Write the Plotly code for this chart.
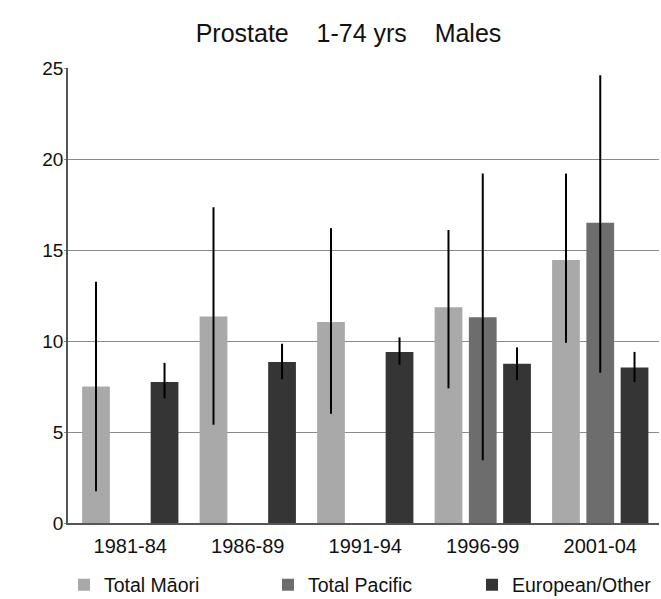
import plotly.graph_objects as go

periods = ["1981-84", "1986-89", "1991-94", "1996-99", "2001-04"]

maori = [7.5, 11.35, 11.05, 11.85, 14.45]
maori_lo = [1.75, 5.4, 6.0, 7.4, 9.9]
maori_hi = [13.25, 17.35, 16.2, 16.1, 19.2]

pacific = [None, None, None, 11.3, 16.5]
pacific_lo = [None, None, None, 3.45, 8.25]
pacific_hi = [None, None, None, 19.2, 24.6]

european = [7.75, 8.85, 9.4, 8.75, 8.55]
european_lo = [6.85, 7.9, 8.7, 7.85, 7.75]
european_hi = [8.8, 9.85, 10.2, 9.65, 9.4]

y_ticks = [0, 5, 10, 15, 20, 25]


def err(vals, lo, hi):
    plus = [(h - v) if v is not None else None for v, h in zip(vals, hi)]
    minus = [(v - l) if v is not None else None for v, l in zip(vals, lo)]
    return dict(type="data", symmetric=False, array=plus, arrayminus=minus,
                color="black", thickness=2, width=0)


fig = go.Figure()
fig.add_trace(go.Bar(name="Total Māori", x=periods, y=maori,
                     marker=dict(color="#a9a9a9", line=dict(width=0)),
                     error_y=err(maori, maori_lo, maori_hi), legend="legend"))
fig.add_trace(go.Bar(name="Total Pacific", x=periods, y=pacific,
                     marker=dict(color="#6d6d6d", line=dict(width=0)),
                     error_y=err(pacific, pacific_lo, pacific_hi), legend="legend2"))
fig.add_trace(go.Bar(name="European/Other", x=periods, y=european,
                     marker=dict(color="#353535", line=dict(width=0)),
                     error_y=err(european, european_lo, european_hi), legend="legend3"))


def leg(xpx):
    return dict(orientation="h", x=xpx / 661, xanchor="left", xref="container",
                y=1 - 585 / 599, yanchor="middle", yref="container",
                font=dict(size=19.5), itemwidth=30, bgcolor="rgba(0,0,0,0)")


fig.update_layout(
    width=661, height=599,
    margin=dict(l=68, r=2, t=68, b=76),
    paper_bgcolor="white", plot_bgcolor="white",
    font=dict(family="Liberation Sans, Arial, sans-serif", size=19, color="#111111"),
    title=dict(text="Prostate\u00a0\u00a0\u00a0 1-74 yrs\u00a0\u00a0\u00a0 Males",
               x=348.5 / 661, xanchor="center", xref="container",
               y=1 - 33 / 599, yanchor="middle", yref="container",
               font=dict(size=25, color="#111111")),
    barmode="group", bargap=0.125, bargroupgap=0.19,
    showlegend=True,
    legend=leg(64), legend2=leg(268), legend3=leg(472),
    xaxis=dict(type="category", range=[-0.53, 4.5], showline=True,
               linecolor="#555555", linewidth=1.5,
               ticks="", tickfont=dict(size=20), showgrid=False,
               ticklabelstandoff=4),
    yaxis=dict(range=[0, 25], tickvals=y_ticks, showgrid=True,
               gridcolor="#8a8a8a", gridwidth=1.2,
               showline=True, linecolor="#555555", linewidth=1.5,
               ticks="outside", ticklen=2, tickcolor="#8a8a8a",
               tickfont=dict(size=19), zeroline=False,
               ticklabelstandoff=-3),
)

fig.write_html("out.html")
